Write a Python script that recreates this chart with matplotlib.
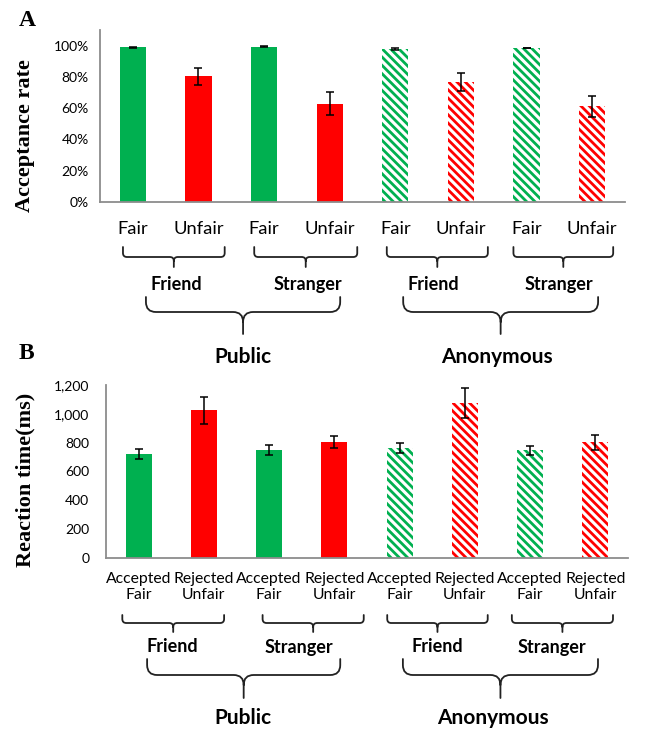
import matplotlib
matplotlib.use("Agg")
import matplotlib.pyplot as plt
from matplotlib.path import Path
from matplotlib.patches import PathPatch
from matplotlib.ticker import FuncFormatter
import numpy as np

# ---- data -------------------------------------------------------------
acc_labels = ["Fair", "Unfair"] * 4
acc_rate = [0.989, 0.803, 0.994, 0.628, 0.979, 0.767, 0.985, 0.611]
acc_err = [0.004, 0.056, 0.003, 0.073, 0.008, 0.058, 0.002, 0.069]

rt_labels = ["Accepted\nFair", "Rejected\nUnfair"] * 4
rt_mean = [721, 1024, 749, 804, 763, 1072, 746, 802]
rt_err = [36, 96, 32, 40, 33, 104, 31, 52]

is_fair = [True, False] * 4
is_anonymous = [False] * 4 + [True] * 4
partner_labels = ["Friend", "Stranger", "Friend", "Stranger"]
context_labels = ["Public", "Anonymous"]

GREEN = "#00B050"
RED = "#FF0000"
AXIS_GREY = "#8C8C8C"
SANS = ["Lato", "DejaVu Sans"]
SERIF = ["Liberation Serif", "DejaVu Serif"]

W, H = 651, 729
plt.rcParams["hatch.linewidth"] = 2.0
fig = plt.figure(figsize=(W / 100, H / 100), dpi=100)
fig.patch.set_facecolor("white")


def px_axes(left, right, top, bottom):
    return fig.add_axes([left / W, 1 - bottom / H, (right - left) / W, (bottom - top) / H])


def draw_bars(ax, values, errors):
    x = np.arange(len(values))
    for xi, v, fair, anon in zip(x, values, is_fair, is_anonymous):
        c = GREEN if fair else RED
        if anon:
            ax.bar(xi, v, width=0.4, color="white", edgecolor=c, linewidth=0,
                   hatch="\\\\\\\\", zorder=2)
        else:
            ax.bar(xi, v, width=0.4, color=c, linewidth=0, zorder=2)
    ax.errorbar(x, values, yerr=errors, fmt="none", ecolor="black",
                elinewidth=1.1, capsize=3, capthick=1.1, zorder=3)
    ax.set_xlim(-0.5, len(values) - 0.5)
    for s in ("top", "right"):
        ax.spines[s].set_visible(False)
    for s in ("left", "bottom"):
        ax.spines[s].set_color(AXIS_GREY)
        ax.spines[s].set_linewidth(1.3)
    ax.tick_params(length=0)


# ---- panel A: acceptance rate ----------------------------------------
axA = px_axes(100, 625, 30, 202)
draw_bars(axA, acc_rate, acc_err)
axA.set_ylim(0, 1.1)
axA.set_yticks(np.arange(0, 1.01, 0.2))
axA.yaxis.set_major_formatter(FuncFormatter(lambda v, _: f"{v:.0%}"))
axA.set_xticks(np.arange(8))
axA.set_xticklabels(acc_labels, family=SANS, fontsize=13.2)
axA.tick_params(axis="x", pad=14)
axA.tick_params(axis="y", pad=8, labelsize=10)
for t in axA.get_yticklabels():
    t.set_family(SANS)

# ---- panel B: reaction time ------------------------------------------
axB = px_axes(106, 628, 385, 558)
draw_bars(axB, rt_mean, rt_err)
axB.set_ylim(0, 1200)
axB.set_yticks(np.arange(0, 1201, 200))
axB.yaxis.set_major_formatter(FuncFormatter(lambda v, _: f"{v:,.0f}"))
axB.set_xticks(np.arange(8))
axB.set_xticklabels(rt_labels, family=SANS, fontsize=11.3, linespacing=1.15)
axB.tick_params(axis="x", pad=10)
axB.tick_params(axis="y", pad=12, labelsize=10)
for t in axB.get_yticklabels():
    t.set_family(SANS)

# ---- overlay in pixel coordinates for braces and group labels ---------
ov = fig.add_axes([0, 0, 1, 1])
ov.set_xlim(0, W)
ov.set_ylim(H, 0)
ov.axis("off")


def to_px(ax, xdata):
    return ax.transData.transform((xdata, 0))[0]


def brace(x0, x1, ytop, yh, ytip, r):
    xm = (x0 + x1) / 2
    M, L, C = Path.MOVETO, Path.LINETO, Path.CURVE3
    verts = [(x0, ytop), (x0, yh - r), (x0, yh), (x0 + r, yh),
             (xm - r, yh), (xm, yh), (xm, yh + r), (xm, ytip),
             (x1, ytop), (x1, yh - r), (x1, yh), (x1 - r, yh),
             (xm + r, yh), (xm, yh), (xm, yh + r)]
    codes = [M, L, C, C, L, C, C, L, M, L, C, C, L, C, C]
    ov.add_patch(PathPatch(Path(verts, codes), fill=False, lw=1.3,
                           edgecolor="#222222", capstyle="round", joinstyle="round"))


def annotate_groups(ax, small_spans, small_text_x, big_spans, big_text_x,
                    small_y, big_y, partner_y, context_y):
    for (a, b), tx, lab in zip(small_spans, small_text_x, partner_labels):
        brace(to_px(ax, a), to_px(ax, b), *small_y, r=4)
        ov.text(to_px(ax, tx), partner_y, lab, ha="center", va="center", family=SANS,
                fontweight="bold", fontsize=13, color="black")
    for (a, b), tx, lab in zip(big_spans, big_text_x, context_labels):
        brace(to_px(ax, a), to_px(ax, b), *big_y, r=10)
        ov.text(to_px(ax, tx), context_y, lab, ha="center", va="center", family=SANS,
                fontweight="bold", fontsize=15, color="black")


annotate_groups(axA,
                [(-0.15, 1.40), (1.85, 3.42), (3.87, 5.41), (5.80, 7.32)],
                [0.66, 2.67, 4.58, 6.49],
                [(0.20, 3.16), (4.12, 7.09)],
                [1.68, 5.55],
                (247, 257, 267), (297, 312, 334), 284, 357)
annotate_groups(axB,
                [(-0.25, 1.31), (1.90, 3.45), (3.81, 5.35), (5.72, 7.27)],
                [0.51, 2.46, 4.57, 6.34],
                [(0.13, 3.09), (4.05, 7.04)],
                [1.60, 5.43],
                (615, 623, 632), (659, 675, 698), 647, 718)

# axis titles and panel letters
ov.text(25, 136, "Acceptance rate", rotation=90, ha="center", va="center",
        family=SERIF, fontweight="bold", fontsize=16)
ov.text(25, 480, "Reaction time(ms)", rotation=90, ha="center", va="center",
        family=SERIF, fontweight="bold", fontsize=16)
ov.text(27, 20, "A", ha="center", va="center", family=SERIF, fontweight="bold", fontsize=17)
ov.text(26, 353, "B", ha="center", va="center", family=SERIF, fontweight="bold", fontsize=17)

fig.savefig("out.png", dpi=100, facecolor="white")
